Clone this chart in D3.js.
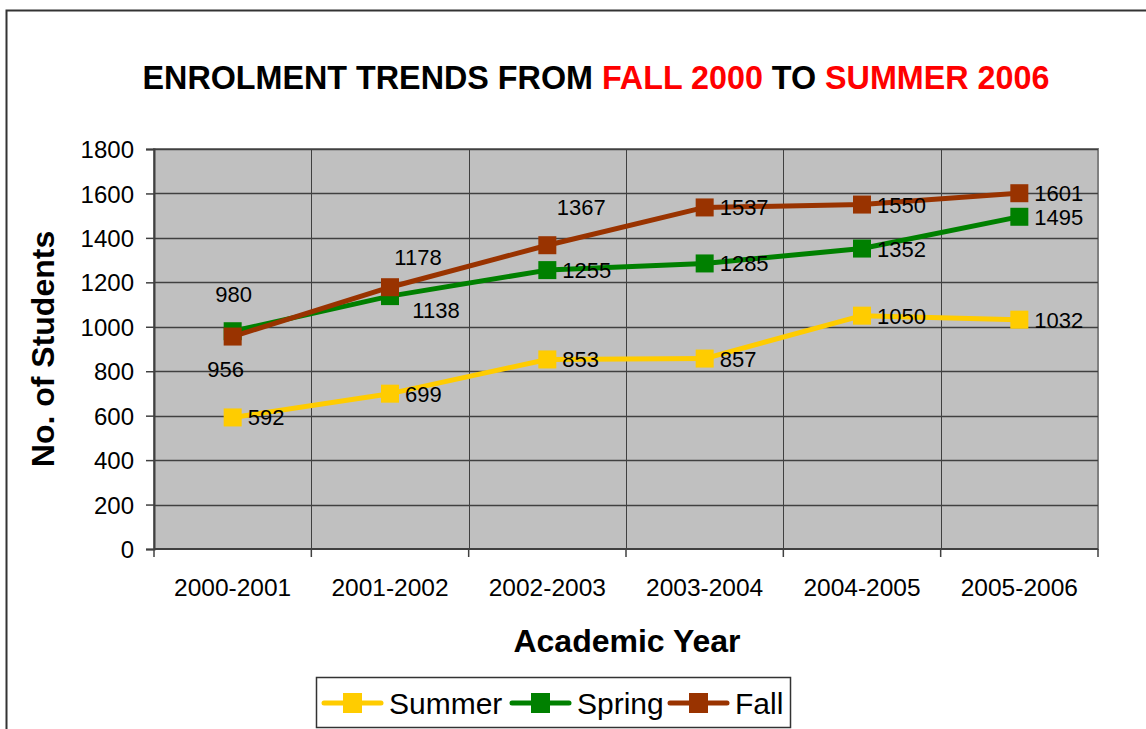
<!DOCTYPE html>
<html>
<head>
<meta charset="utf-8">
<script src="https://cdn.jsdelivr.net/npm/d3@7"></script>
<style>
  body { margin: 0; background: #fff; }
  svg text { font-family: "Liberation Sans", Arial, sans-serif; }
</style>
</head>
<body>
<div id="chart"></div>
<script>
// data
var years = ['2000-2001', '2001-2002', '2002-2003', '2003-2004', '2004-2005', '2005-2006'];
var summer = [592, 699, 853, 857, 1050, 1032];
var spring = [980, 1138, 1255, 1285, 1352, 1495];
var fall = [956, 1178, 1367, 1537, 1550, 1601];
var yTicks = [0, 200, 400, 600, 800, 1000, 1200, 1400, 1600, 1800];

// where each value label sits
var summerLabelPos = ['right', 'right', 'right', 'right', 'right', 'right'];
var springLabelPos = ['above', 'belowRight', 'right', 'right', 'right', 'right'];
var fallLabelPos = ['below', 'aboveRight', 'aboveFar', 'right', 'right', 'right'];

var series = [
    {name: 'Summer', values: summer, color: '#FFCC00', pos: summerLabelPos},
    {name: 'Spring', values: spring, color: '#008000', pos: springLabelPos},
    {name: 'Fall', values: fall, color: '#993300', pos: fallLabelPos}
];

var W = 1146, H = 729;
var plot = {left: 154, top: 149, right: 1098, bottom: 549};

var svg = d3.select('#chart').append('svg')
    .attr('width', W)
    .attr('height', H);

// outer frame (cut off at right and bottom)
svg.append('rect')
    .attr('x', 6.5).attr('y', 10.5)
    .attr('width', W + 20).attr('height', H + 20)
    .attr('fill', '#fff')
    .attr('stroke', '#333')
    .attr('stroke-width', 2);

var x = d3.scaleBand()
    .domain(years)
    .range([plot.left, plot.right]);

var y = d3.scaleLinear()
    .domain([0, 1800])
    .range([plot.bottom, plot.top]);

// plot background
svg.append('rect')
    .attr('x', plot.left).attr('y', plot.top)
    .attr('width', plot.right - plot.left)
    .attr('height', plot.bottom - plot.top)
    .attr('fill', '#C0C0C0')
    .attr('stroke', '#808080')
    .attr('stroke-width', 2);

// horizontal grid
svg.append('g')
  .selectAll('line')
  .data(yTicks.slice(1))
  .enter()
  .append('line')
    .attr('x1', plot.left).attr('x2', plot.right)
    .attr('y1', function(d) { return Math.round(y(d)) + 0.5; })
    .attr('y2', function(d) { return Math.round(y(d)) + 0.5; })
    .attr('stroke', '#404040')
    .attr('stroke-width', 1.5);

// vertical grid at category boundaries
svg.append('g')
  .selectAll('line')
  .data(years.slice(1))
  .enter()
  .append('line')
    .attr('x1', function(d) { return Math.round(x(d)) + 0.5; })
    .attr('x2', function(d) { return Math.round(x(d)) + 0.5; })
    .attr('y1', plot.top).attr('y2', plot.bottom)
    .attr('stroke', '#404040')
    .attr('stroke-width', 1);

// Y axis
var yAxis = svg.append('g')
    .attr('transform', 'translate(' + plot.left + ',0)')
    .call(d3.axisLeft(y).tickValues(yTicks).tickFormat(d3.format('d')).tickSize(8).tickPadding(12));
yAxis.select('.domain').attr('stroke', '#404040').attr('stroke-width', 2);
yAxis.selectAll('.tick line').attr('stroke', '#404040').attr('stroke-width', 1.5);
yAxis.selectAll('.tick text')
    .attr('fill', '#000')
    .attr('dy', '0.36em')
    .style('font-size', '24px')
    .style('font-family', '"Liberation Sans", Arial, sans-serif');

// X axis: ticks on category boundaries, labels centred
var xAxis = svg.append('g')
    .attr('transform', 'translate(0,' + plot.bottom + ')');
xAxis.append('line')
    .attr('x1', plot.left).attr('x2', plot.right)
    .attr('stroke', '#404040').attr('stroke-width', 2);
xAxis.selectAll('line.tk')
  .data(years.concat(['end']))
  .enter()
  .append('line')
    .attr('class', 'tk')
    .attr('x1', function(d, i) { return i < years.length ? x(d) : plot.right; })
    .attr('x2', function(d, i) { return i < years.length ? x(d) : plot.right; })
    .attr('y1', 0).attr('y2', 8)
    .attr('stroke', '#404040').attr('stroke-width', 1.5);
xAxis.selectAll('text')
  .data(years)
  .enter()
  .append('text')
    .attr('x', function(d) { return x(d) + x.bandwidth() / 2; })
    .attr('y', 47)
    .attr('text-anchor', 'middle')
    .style('font-size', '24.5px')
    .text(function(d) { return d; });

// title
var title = svg.append('text')
    .attr('x', 596).attr('y', 89)
    .attr('text-anchor', 'middle')
    .style('font-size', '32.3px')
    .style('font-weight', 'bold');
title.append('tspan').attr('fill', '#000').text('ENROLMENT TRENDS FROM ');
title.append('tspan').attr('fill', '#FF0000').text('FALL 2000');
title.append('tspan').attr('fill', '#000').text(' TO ');
title.append('tspan').attr('fill', '#FF0000').text('SUMMER 2006');

// axis titles
svg.append('text')
    .attr('transform', 'translate(54,349) rotate(-90)')
    .attr('text-anchor', 'middle')
    .style('font-size', '32px')
    .style('font-weight', 'bold')
    .text('No. of Students');

svg.append('text')
    .attr('x', 627).attr('y', 652)
    .attr('text-anchor', 'middle')
    .style('font-size', '32px')
    .style('font-weight', 'bold')
    .text('Academic Year');

// lines and markers
var cx = function(i) { return x(years[i]) + x.bandwidth() / 2; };
var line = d3.line()
    .x(function(d, i) { return cx(i); })
    .y(function(d) { return y(d); });

var labelOffset = {
    right: [15, 8, 'start'],
    above: [1, -29, 'middle'],
    below: [-7, 40, 'middle'],
    belowRight: [46, 22, 'middle'],
    aboveRight: [28, -22, 'middle'],
    aboveFar: [34, -30, 'middle']
};

series.forEach(function(s) {
    var g = svg.append('g');
    g.append('path')
        .datum(s.values)
        .attr('fill', 'none')
        .attr('stroke', s.color)
        .attr('stroke-width', 5)
        .attr('stroke-linejoin', 'round')
        .attr('d', line);
    g.selectAll('rect')
      .data(s.values)
      .enter()
      .append('rect')
        .attr('x', function(d, i) { return cx(i) - 9; })
        .attr('y', function(d) { return y(d) - 9; })
        .attr('width', 18).attr('height', 18)
        .attr('fill', s.color);
});

// value labels on top
series.forEach(function(s) {
    svg.append('g')
      .selectAll('text')
      .data(s.values)
      .enter()
      .append('text')
        .attr('x', function(d, i) { return cx(i) + labelOffset[s.pos[i]][0]; })
        .attr('y', function(d, i) { return y(d) + labelOffset[s.pos[i]][1]; })
        .attr('text-anchor', function(d, i) { return labelOffset[s.pos[i]][2]; })
        .style('font-size', '22px')
        .text(function(d) { return d; });
});

// legend
var legend = svg.append('g').attr('transform', 'translate(316,677)');
legend.append('rect')
    .attr('x', 0.5).attr('y', 0.5)
    .attr('width', 474).attr('height', 50)
    .attr('fill', '#fff')
    .attr('stroke', '#333')
    .attr('stroke-width', 1.5);
var legendX = [8, 196, 354];
series.forEach(function(s, i) {
    var item = legend.append('g').attr('transform', 'translate(' + legendX[i] + ',26)');
    item.append('line')
        .attr('x1', 0).attr('x2', 57)
        .attr('stroke', s.color).attr('stroke-width', 5)
        .attr('stroke-linecap', 'round');
    item.append('rect')
        .attr('x', 19).attr('y', -10)
        .attr('width', 19).attr('height', 20)
        .attr('fill', s.color);
    item.append('text')
        .attr('x', 65).attr('y', 11)
        .style('font-size', '30px')
        .text(s.name);
});
</script>
</body>
</html>
